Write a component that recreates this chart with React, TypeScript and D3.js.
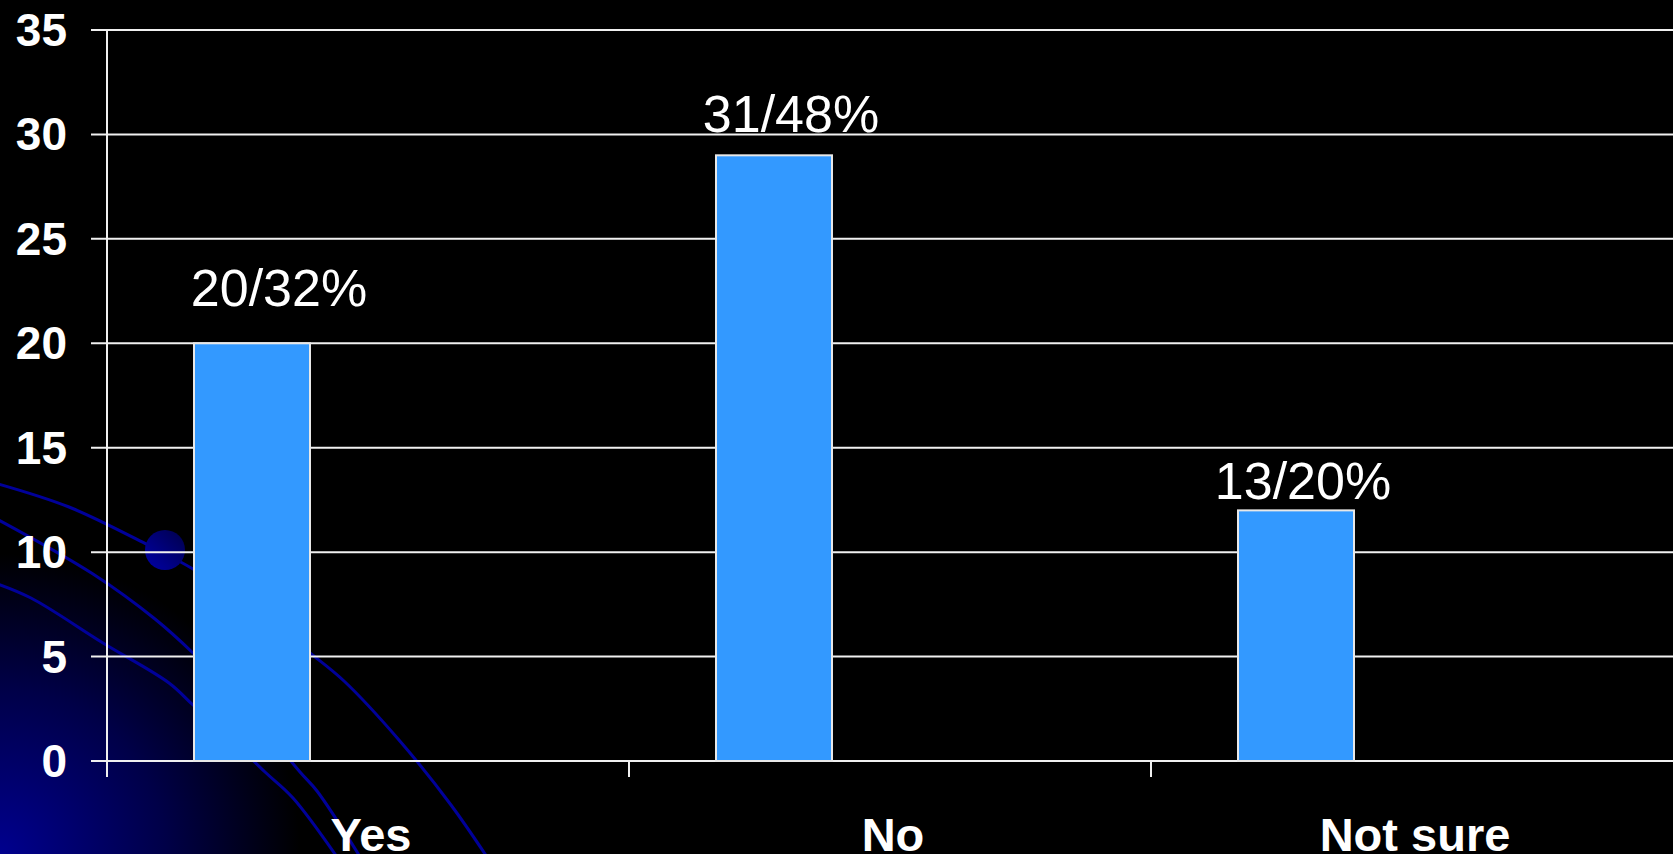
import React from "react";
import * as d3 from "d3";

// ---- data ----
const categories = ["Yes", "No", "Not sure"];
const seriesValues = [20, 29, 12];
const valueLabels = ["20/32%", "31/48%", "13/20%"];
const yTicks = [0, 5, 10, 15, 20, 25, 30, 35];

// ---- layout ----
const W = 1673;
const H = 854;
const plot = { left: 107, right: 1673, top: 30, bottom: 761 };
const labelOffsets = [
  { dx: 27, dy: 37 },
  { dx: 17, dy: 23 },
  { dx: 7, dy: 11 },
];
const FONT = "'Liberation Sans', Arial, Helvetica, sans-serif";

// decorative background arcs (template artwork, not data)
const decoArcs: [number, number][][] = [
  [[-5, 483], [69, 507], [148, 545], [193, 569], [252, 608], [310, 653], [344, 681], [399, 740], [451, 805], [497, 872]],
  [[-5, 518], [93, 574], [155, 619], [193, 653], [250, 712], [300, 772], [317, 791], [367, 868]],
  [[-5, 583], [31, 598], [103, 643], [169, 683], [193, 705], [232, 740], [265, 772], [293, 798], [346, 870]],
];

export default function App() {
  const x = d3.scaleBand<string>().domain(categories).range([plot.left, plot.right]).padding(0);
  const y = d3.scaleLinear().domain([0, 35]).range([plot.bottom, plot.top]);
  const bw = x.bandwidth();
  // clustered layout: 3 series slots, gap width 150%
  const barW = bw / 4.5;
  const barOffset = barW * 0.75;
  const line = d3.line().curve(d3.curveCatmullRom.alpha(0.5));

  return (
    <svg
      width={W}
      height={H}
      style={{ position: "fixed", left: 0, top: 0, background: "#000" }}
    >
      <defs>
        <radialGradient id="bgGlow" gradientUnits="userSpaceOnUse" cx={0} cy={H} r={300}>
          <stop offset="0" stopColor="#00008e" />
          <stop offset="0.55" stopColor="#000048" />
          <stop offset="1" stopColor="#000000" />
        </radialGradient>
        <linearGradient id="dotGrad" x1="0" y1="1" x2="1" y2="0">
          <stop offset="0" stopColor="#0000a8" />
          <stop offset="1" stopColor="#00004a" />
        </linearGradient>
      </defs>
      <rect x={0} y={0} width={W} height={H} fill="#000" />
      <rect x={0} y={0} width={W} height={H} fill="url(#bgGlow)" />
      {decoArcs.map((pts, i) => (
        <path key={i} d={line(pts) || ""} fill="none" stroke="#000099" strokeWidth={3} />
      ))}
      <circle cx={165} cy={550} r={20} fill="url(#dotGrad)" />

      {/* gridlines + y ticks */}
      {yTicks.map((t) => (
        <line
          key={t}
          x1={plot.left - 16}
          x2={plot.right}
          y1={y(t)}
          y2={y(t)}
          stroke="#f0f0f0"
          strokeWidth={2}
        />
      ))}
      {/* y axis */}
      <line x1={plot.left} x2={plot.left} y1={plot.top} y2={plot.bottom + 16} stroke="#f0f0f0" strokeWidth={2} />
      {/* x ticks */}
      {categories.slice(1).map((c) => (
        <line key={c} x1={x(c)!} x2={x(c)!} y1={plot.bottom} y2={plot.bottom + 16} stroke="#f0f0f0" strokeWidth={2} />
      ))}

      {/* y tick labels */}
      {yTicks.map((t) => (
        <text
          key={t}
          x={67}
          y={y(t) + 16}
          textAnchor="end"
          fill="#fff"
          fontFamily={FONT}
          fontWeight="bold"
          fontSize={46}
        >
          {t}
        </text>
      ))}

      {/* bars */}
      {categories.map((c, i) => (
        <rect
          key={c}
          x={x(c)! + barOffset}
          y={y(seriesValues[i])}
          width={barW}
          height={y(0) - y(seriesValues[i])}
          fill="#3399ff"
          stroke="#e8e8e8"
          strokeWidth={2}
        />
      ))}

      {/* value labels */}
      {categories.map((c, i) => (
        <text
          key={c}
          x={x(c)! + barOffset + barW / 2 + labelOffsets[i].dx}
          y={y(seriesValues[i]) - labelOffsets[i].dy}
          textAnchor="middle"
          fill="#fff"
          fontFamily={FONT}
          fontSize={52}
        >
          {valueLabels[i]}
        </text>
      ))}

      {/* category labels */}
      {categories.map((c) => (
        <text
          key={c}
          x={x(c)! + bw / 2 + 3}
          y={851}
          textAnchor="middle"
          fill="#fff"
          fontFamily={FONT}
          fontWeight="bold"
          fontSize={47}
        >
          {c}
        </text>
      ))}
    </svg>
  );
}
